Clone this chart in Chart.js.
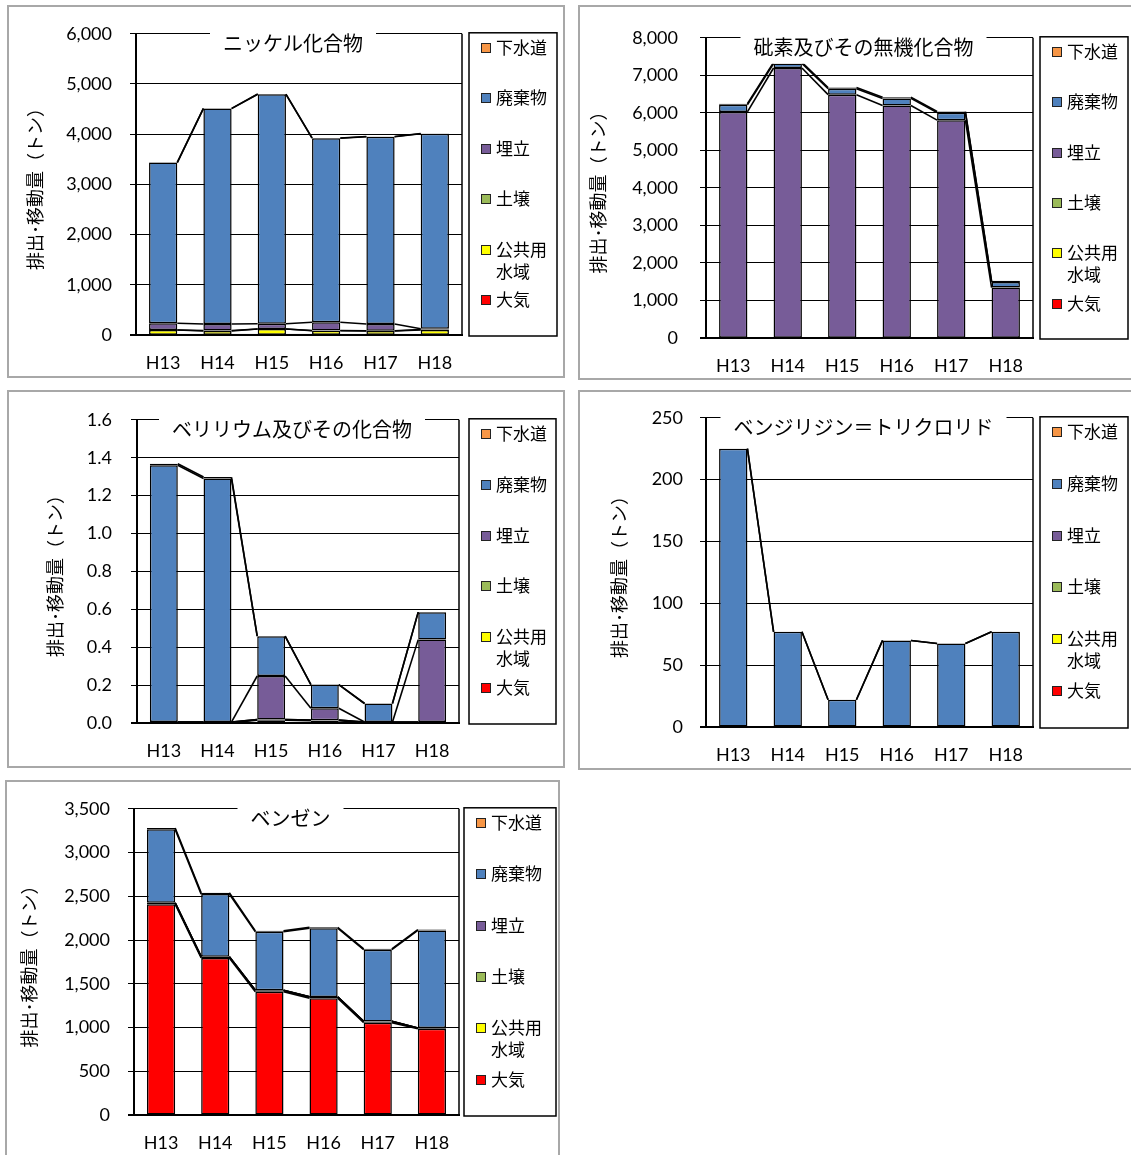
<!DOCTYPE html>
<html>
<head>
<meta charset="utf-8">
<script src="https://cdn.jsdelivr.net/npm/chart.js@4.4.1/dist/chart.umd.min.js"></script>
<style>
html,body{margin:0;padding:0;background:#fff;width:1131px;height:1155px;overflow:hidden;}
canvas{position:absolute;}
.panel{position:absolute;box-sizing:border-box;border:2px solid #a8a8a8;pointer-events:none;}
</style>
</head>
<body>
<canvas id="c1" width="558" height="373" style="left:7px;top:5px"></canvas>
<canvas id="c2" width="555" height="375" style="left:578px;top:5px"></canvas>
<canvas id="c3" width="558" height="378" style="left:7px;top:390px"></canvas>
<canvas id="c4" width="555" height="380" style="left:578px;top:390px"></canvas>
<canvas id="c5" width="555" height="380" style="left:5px;top:780px"></canvas>
<div class="panel" style="left:7px;top:5px;width:558px;height:373px"></div>
<div class="panel" style="left:578px;top:5px;width:556px;height:375px"></div>
<div class="panel" style="left:7px;top:390px;width:558px;height:378px"></div>
<div class="panel" style="left:578px;top:390px;width:556px;height:380px"></div>
<div class="panel" style="left:5px;top:780px;width:555px;height:380px"></div>
<script>
// ---- shared categories / series ----
const years = ['H13', 'H14', 'H15', 'H16', 'H17', 'H18'];
const seriesNames = ['大気', '公共用水域', '土壌', '埋立', '廃棄物', '下水道'];
const seriesColors = ['#FF0000', '#FFFF00', '#9BBB59', '#775C98', '#4F81BD', '#F79646'];
const yAxisTitle = '排出･移動量（トン）';

// ---- ニッケル化合物 ----
const nickelTitle = 'ニッケル化合物';
const nickelAir      = [5, 5, 5, 5, 5, 5];
const nickelWater    = [95, 75, 115, 80, 75, 95];
const nickelSoil     = [0, 10, 0, 5, 5, 10];
const nickelLandfill = [135, 130, 105, 165, 135, 15];
const nickelWaste    = [3200, 4290, 4570, 3665, 3730, 3885];
const nickelSewer    = [5, 5, 5, 5, 5, 5];
const nickelTicks = ['0', '1,000', '2,000', '3,000', '4,000', '5,000', '6,000'];
const nickelMax = 6000, nickelStep = 1000;

// ---- 砒素及びその無機化合物 ----
const arsenicTitle = '砒素及びその無機化合物';
const arsenicAir      = [5, 5, 5, 5, 5, 5];
const arsenicWater    = [0, 0, 0, 0, 0, 0];
const arsenicSoil     = [0, 0, 0, 0, 0, 0];
const arsenicLandfill = [6020, 7190, 6480, 6190, 5800, 1340];
const arsenicWaste    = [190, 120, 160, 190, 200, 150];
const arsenicSewer    = [30, 30, 30, 30, 30, 30];
const arsenicTicks = ['0', '1,000', '2,000', '3,000', '4,000', '5,000', '6,000', '7,000', '8,000'];
const arsenicMax = 8000, arsenicStep = 1000;

// ---- ベリリウム及びその化合物 ----
const berylTitle = 'ベリリウム及びその化合物';
const berylAir      = [0.002, 0.002, 0.015, 0.012, 0.002, 0.002];
const berylWater    = [0.003, 0.003, 0.003, 0.003, 0.003, 0.003];
const berylSoil     = [0, 0, 0, 0, 0, 0];
const berylLandfill = [0, 0, 0.23, 0.063, 0, 0.435];
const berylWaste    = [1.355, 1.285, 0.21, 0.125, 0.098, 0.145];
const berylSewer    = [0.008, 0.008, 0, 0, 0, 0];
const berylTicks = ['0.0', '0.2', '0.4', '0.6', '0.8', '1.0', '1.2', '1.4', '1.6'];
const berylMax = 1.6, berylStep = 0.2;

// ---- ベンジリジン＝トリクロリド ----
const benzidTitle = 'ベンジリジン＝トリクロリド';
const benzidAir      = [0, 0, 0, 0, 0, 0];
const benzidWater    = [0, 0, 0, 0, 0, 0];
const benzidSoil     = [0, 0, 0, 0, 0, 0];
const benzidLandfill = [0, 0, 0, 0, 0, 0];
const benzidWaste    = [225, 77, 22, 70, 67.5, 77];
const benzidSewer    = [0, 0, 0, 0, 0, 0];
const benzidTicks = ['0', '50', '100', '150', '200', '250'];
const benzidMax = 250, benzidStep = 50;

// ---- ベンゼン ----
const benzeneTitle = 'ベンゼン';
const benzeneAir      = [2410, 1795, 1410, 1335, 1055, 985];
const benzeneWater    = [15, 15, 15, 15, 15, 10];
const benzeneSoil     = [0, 0, 0, 0, 0, 0];
const benzeneLandfill = [0, 0, 0, 0, 0, 0];
const benzeneWaste    = [840, 715, 670, 785, 820, 1115];
const benzeneSewer    = [15, 15, 10, 10, 10, 10];
const benzeneTicks = ['0', '500', '1,000', '1,500', '2,000', '2,500', '3,000', '3,500'];
const benzeneMax = 3500, benzeneStep = 500;

// ---- drawing ----
Chart.defaults.font.family = "Lato, 'Noto Sans CJK JP', sans-serif";
Chart.defaults.color = '#000';

const decor = {
  id: 'excelDecor',
  afterDatasetsDraw(chart, args, o) {
    const ctx = chart.ctx, a = chart.chartArea;
    ctx.save();
    ctx.strokeStyle = '#000';
    // x axis line on top of bars
    ctx.lineWidth = 2;
    ctx.beginPath(); ctx.moveTo(a.left - 6, a.bottom); ctx.lineTo(a.right, a.bottom); ctx.stroke();
    // series lines between stacked segments
    ctx.lineWidth = 1.6;
    chart.data.datasets.forEach((ds, di) => {
      const els = chart.getDatasetMeta(di).data;
      for (let k = 0; k < els.length - 1; k++) {
        const p = els[k], q = els[k + 1];
        ctx.beginPath();
        ctx.moveTo(p.x + p.width / 2, p.y);
        ctx.lineTo(q.x - q.width / 2, q.y);
        ctx.stroke();
      }
    });
    // plot area right border
    ctx.lineWidth = 1.5;
    ctx.beginPath(); ctx.moveTo(a.right, a.top); ctx.lineTo(a.right, a.bottom); ctx.stroke();
    // title with white box
    ctx.font = "20px 'Noto Sans CJK JP'";
    const tw = ctx.measureText(o.title).width;
    const cx = (a.left + a.right) / 2 - 6, cy = a.top + 10;
    ctx.fillStyle = '#fff';
    ctx.fillRect(cx - tw / 2 - 13, cy - 18, tw + 26, 34);
    ctx.fillStyle = '#000';
    ctx.textAlign = 'center'; ctx.textBaseline = 'middle';
    ctx.fillText(o.title, cx, cy);
    ctx.restore();
  },
  afterDraw(chart, args, o) {
    const ctx = chart.ctx, a = chart.chartArea;
    ctx.save();
    const lx = a.right + o.legendGap, ly = a.top - 1, lw = o.legendWidth, lh = a.bottom - a.top + 2;
    ctx.lineWidth = 1.5; ctx.strokeStyle = '#000';
    ctx.strokeRect(lx, ly, lw, lh);
    const n = chart.data.datasets.length;
    ctx.font = "17px 'Noto Sans CJK JP'";
    ctx.textAlign = 'left'; ctx.textBaseline = 'middle';
    for (let i = 0; i < n; i++) {
      const ds = chart.data.datasets[n - 1 - i];
      const y = Math.round(ly + 15 + i * lh / n);
      ctx.fillStyle = ds.backgroundColor;
      ctx.fillRect(lx + 12, y - 5, 10, 10);
      ctx.lineWidth = 1; ctx.strokeStyle = '#222';
      ctx.strokeRect(lx + 12.5, y - 4.5, 9, 9);
      ctx.fillStyle = '#000';
      const lines = ds.label.match(/.{1,3}/g);
      lines.forEach((t, j) => ctx.fillText(t, lx + 27, y + j * 22));
    }
    ctx.restore();
  }
};

function makeChart(id, title, values, tickLabels, yMax, yStep, lay) {
  const datasets = seriesNames.map((name, i) => ({
    label: name,
    data: values[i],
    backgroundColor: seriesColors[i],
    borderColor: '#000',
    borderWidth: 1.5,
    borderSkipped: false,
    barPercentage: 0.52,
    categoryPercentage: 1.0
  }));
  return new Chart(document.getElementById(id), {
    type: 'bar',
    data: { labels: years, datasets },
    options: {
      responsive: false,
      maintainAspectRatio: false,
      animation: false,
      layout: { padding: lay.padding },
      plugins: {
        legend: { display: false },
        tooltip: { enabled: false },
        excelDecor: { title, legendGap: lay.legendGap, legendWidth: lay.legendWidth }
      },
      scales: {
        x: {
          stacked: true,
          grid: { display: false, drawTicks: false },
          border: { display: true, color: '#000', width: 2 },
          ticks: { font: { size: 18 }, padding: 17, color: '#000' },
          afterFit: s => { s.height = lay.xH; }
        },
        y: {
          stacked: true,
          min: 0, max: yMax,
          ticks: {
            stepSize: yStep,
            font: { size: 18 }, padding: lay.yTickPad, color: '#000',
            callback: (v, i) => tickLabels[i]
          },
          grid: { color: '#000', lineWidth: 1, tickLength: 6, drawTicks: true },
          border: { display: true, color: '#000', width: 2 },
          title: {
            display: true, text: yAxisTitle, color: '#000',
            font: { family: "'Noto Sans CJK JP'", size: 18 },
            padding: { top: lay.yTitlePad, bottom: 0 }
          },
          afterFit: s => { s.width = lay.yW; }
        }
      }
    },
    plugins: [decor]
  });
}

makeChart('c1', nickelTitle,
  [nickelAir, nickelWater, nickelSoil, nickelLandfill, nickelWaste, nickelSewer],
  nickelTicks, nickelMax, nickelStep,
  { padding: { left: 0, top: 23, right: 103, bottom: 0 }, xH: 43, yW: 129, yTickPad: 18, yTitlePad: 17, legendGap: 7, legendWidth: 88 });

makeChart('c2', arsenicTitle,
  [arsenicAir, arsenicWater, arsenicSoil, arsenicLandfill, arsenicWaste, arsenicSewer],
  arsenicTicks, arsenicMax, arsenicStep,
  { padding: { left: 0, top: 25, right: 100, bottom: 0 }, xH: 42, yW: 128, yTickPad: 22, yTitlePad: 9, legendGap: 7, legendWidth: 88 });

makeChart('c3', berylTitle,
  [berylAir, berylWater, berylSoil, berylLandfill, berylWaste, berylSewer],
  berylTicks, berylMax, berylStep,
  { padding: { left: 0, top: 22, right: 106, bottom: 0 }, xH: 45, yW: 130, yTickPad: 19, yTitlePad: 37, legendGap: 10, legendWidth: 87 });

makeChart('c4', benzidTitle,
  [benzidAir, benzidWater, benzidSoil, benzidLandfill, benzidWaste, benzidSewer],
  benzidTicks, benzidMax, benzidStep,
  { padding: { left: 0, top: 25, right: 100, bottom: 0 }, xH: 43, yW: 128, yTickPad: 17, yTitlePad: 30, legendGap: 7, legendWidth: 88 });

makeChart('c5', benzeneTitle,
  [benzeneAir, benzeneWater, benzeneSoil, benzeneLandfill, benzeneWaste, benzeneSewer],
  benzeneTicks, benzeneMax, benzeneStep,
  { padding: { left: 0, top: 24, right: 101, bottom: 0 }, xH: 45, yW: 129, yTickPad: 18, yTitlePad: 13, legendGap: 5, legendWidth: 92 });
</script>
</body>
</html>
